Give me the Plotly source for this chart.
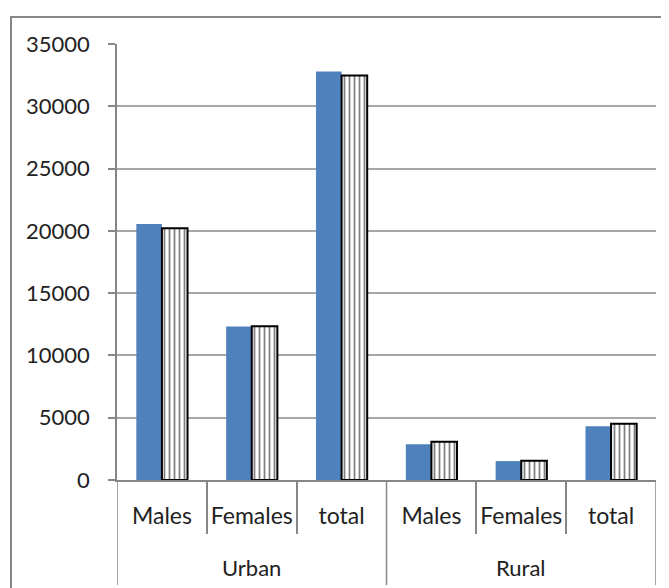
import plotly.graph_objects as go

# Chart values
groups = ['Urban', 'Rural']
subcats = ['Males', 'Females', 'total']
series_a = [20550, 12330, 32800, 2870, 1520, 4310]   # solid blue
series_b = [20200, 12350, 32480, 3070, 1550, 4520]   # striped
y_ticks = [0, 5000, 10000, 15000, 20000, 25000, 30000, 35000]

x_pos = list(range(len(series_a)))
tick_text = subcats * len(groups)

grid_col = '#a6a6a6'
axis_col = '#868686'
font_name = 'Lato'
fsize = 22

fig = go.Figure()

fig.add_trace(go.Bar(
    x=x_pos, y=series_a, name='A',
    marker=dict(color='#4f81bd', line=dict(width=0)),
))
fig.add_trace(go.Bar(
    x=x_pos, y=series_b, name='B',
    marker=dict(
        color='white',
        line=dict(color='black', width=2),
        pattern=dict(shape='|', fgcolor='black', bgcolor='white', size=5, solidity=0.35),
    ),
))

# page has an 8px body margin, so the figure starts at (8, 8)
# plot area (page px): x 117..656, y 44..480
plot_w = 539.0
plot_h = 436.0

# group dividers below the axis
for xb in [-0.5, 2.5, 5.5]:
    fig.add_shape(type='line', xref='x', yref='paper', x0=xb, x1=xb,
                  y0=0, y1=-(585 - 480) / plot_h,
                  line=dict(color=axis_col, width=1.5), layer='above')

# group labels
for i, g in enumerate(groups):
    fig.add_annotation(text=g, xref='x', yref='paper', x=i * 3 + 1,
                       y=-(567 - 480) / plot_h, showarrow=False,
                       yanchor='middle', font=dict(size=fsize, color='#222222', family=font_name))

# outer chart border (runs off the right and bottom edges)
fig.add_shape(type='rect', xref='paper', yref='paper',
              x0=(11 - 117) / plot_w, x1=1.3, y0=-0.5, y1=(480 - 17) / plot_h,
              line=dict(color=axis_col, width=2), fillcolor='rgba(0,0,0,0)', layer='below')

fig.update_layout(
    width=661, height=580,
    margin=dict(l=109, r=13, t=36, b=108),
    paper_bgcolor='white', plot_bgcolor='white',
    barmode='group', bargap=0.43, bargroupgap=0,
    showlegend=False,
    font=dict(family=font_name, size=fsize, color='#222222'),
)

fig.update_xaxes(
    range=[-0.5, 5.5],
    tickmode='array', tickvals=x_pos, ticktext=tick_text,
    tickfont=dict(size=23),
    ticks='', ticklabelstandoff=15,
    showgrid=False, zeroline=False,
    showline=True, linecolor=axis_col, linewidth=1.5,
    minor=dict(tickmode='array', tickvals=[0.5, 1.5, 3.5, 4.5],
               ticks='outside', ticklen=52, tickcolor=axis_col, tickwidth=1.5, showgrid=False),
)
fig.update_yaxes(
    range=[0, 35000],
    tickmode='array', tickvals=y_ticks, ticktext=[str(v) for v in y_ticks],
    ticks='outside', ticklen=7, tickcolor=axis_col, tickwidth=1.5,
    ticklabelstandoff=14,
    showgrid=True, gridcolor=grid_col, gridwidth=1.5,
    zeroline=False,
    showline=True, linecolor=axis_col, linewidth=1.5,
)

fig.write_html('out.html')
